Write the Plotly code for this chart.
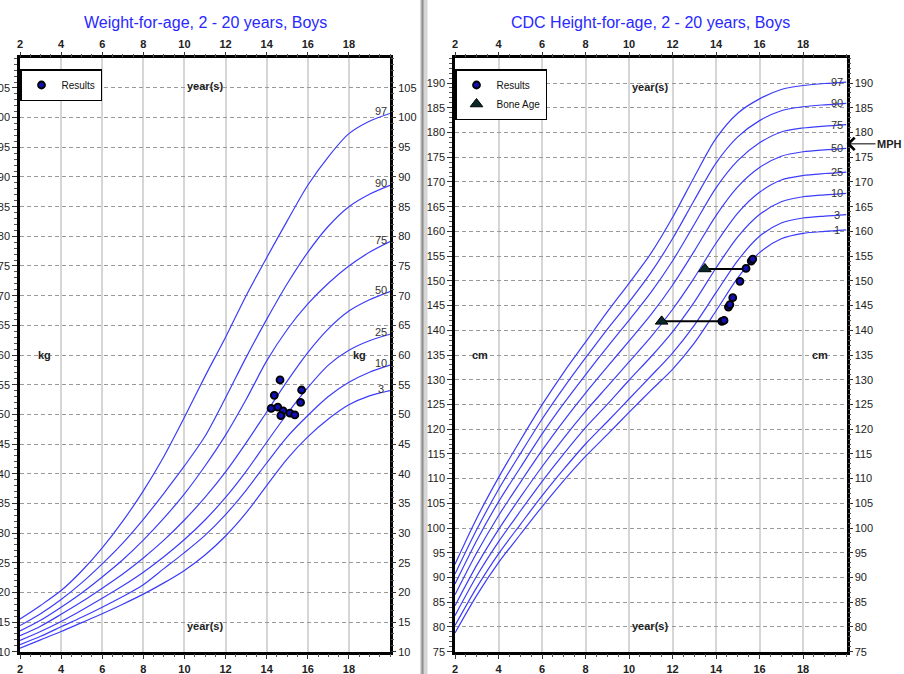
import plotly.graph_objects as go

# ---------------- data ----------------
ages = list(range(2, 21))

# CDC weight-for-age, boys (kg)
w_labels = ["3", "10", "25", "50", "75", "90", "97"]
w3 = [10.6, 12.0, 13.4, 14.9, 16.4, 18.0, 19.7, 21.6, 23.7, 26.3, 29.5, 33.4, 38.0, 42.5, 46.2, 49.2, 51.6, 53.1, 54.0]
w10 = [11.2, 12.6, 14.2, 15.8, 17.5, 19.3, 21.3, 24.0, 26.7, 29.6, 33.1, 37.2, 41.8, 46.2, 49.8, 53.0, 55.4, 57.1, 58.3]
w25 = [11.9, 13.4, 15.1, 17.0, 19.0, 21.1, 23.4, 26.0, 28.9, 32.2, 36.0, 40.4, 45.3, 50.1, 54.5, 58.3, 60.8, 62.4, 63.5]
w50 = [12.7, 14.3, 16.3, 18.4, 20.7, 23.1, 25.8, 28.8, 32.2, 36.0, 40.3, 45.2, 50.4, 55.6, 60.4, 64.4, 67.4, 69.3, 70.7]
w75 = [13.5, 15.3, 17.5, 19.9, 22.6, 25.5, 28.8, 32.5, 36.6, 41.3, 46.5, 52.5, 59.0, 64.3, 68.6, 72.1, 75.0, 77.3, 79.1]
w90 = [14.4, 16.4, 18.8, 21.6, 24.8, 28.3, 32.3, 36.7, 41.3, 46.3, 52.8, 59.6, 66.0, 72.0, 77.3, 81.7, 85.0, 87.1, 88.6]
w97 = [15.5, 17.8, 20.3, 23.6, 27.5, 32.0, 37.1, 42.9, 49.5, 56.4, 63.0, 70.0, 76.4, 82.6, 88.6, 93.4, 97.3, 99.4, 100.7]
w_curves = [w3, w10, w25, w50, w75, w90, w97]

# CDC height-for-age, boys (cm)
h_labels = ["1", "3", "10", "25", "50", "75", "90", "97"]
h1 = [78.8, 86.4, 93.0, 98.7, 104.3, 109.6, 114.5, 118.9, 123.4, 127.8, 132.1, 137.4, 143.9, 150.6, 155.7, 158.5, 159.6, 160.0, 160.3]
h3 = [80.3, 88.0, 94.8, 100.7, 106.5, 111.9, 117.0, 121.5, 126.1, 130.7, 135.4, 141.0, 147.6, 154.1, 159.0, 161.7, 162.7, 163.1, 163.4]
h10 = [82.3, 90.3, 97.2, 103.4, 109.4, 115.0, 120.3, 125.0, 129.9, 134.6, 139.7, 145.7, 152.6, 158.9, 163.4, 166.0, 167.0, 167.4, 167.7]
h25 = [84.3, 92.5, 99.7, 106.2, 112.4, 118.2, 123.6, 128.6, 133.6, 138.6, 144.2, 150.6, 157.6, 163.7, 167.9, 170.4, 171.3, 171.7, 172.0]
h50 = [86.5, 95.0, 102.5, 109.2, 115.7, 121.7, 127.3, 132.6, 137.8, 143.1, 149.1, 156.0, 163.2, 169.0, 172.9, 175.2, 176.1, 176.5, 176.8]
h75 = [88.7, 97.5, 105.3, 112.2, 119.0, 125.2, 131.0, 136.6, 142.0, 147.6, 154.0, 161.4, 168.8, 174.3, 177.9, 180.1, 180.9, 181.3, 181.6]
h90 = [90.7, 99.7, 107.8, 115.0, 122.0, 128.4, 134.4, 140.2, 145.7, 151.6, 158.5, 166.3, 173.8, 179.1, 182.4, 184.4, 185.2, 185.6, 185.9]
h97 = [92.7, 102.0, 110.2, 117.7, 124.9, 131.5, 137.6, 143.7, 149.5, 155.5, 162.8, 171.0, 178.8, 183.9, 186.8, 188.7, 189.5, 189.9, 190.2]
h_curves = [h1, h3, h10, h25, h50, h75, h90, h97]

# patient results
wr_age = [14.65, 14.37, 15.70, 15.65, 14.22, 14.54, 14.80, 14.69, 15.13, 15.37]
wr_kg = [55.8, 53.2, 54.1, 52.0, 51.0, 51.2, 50.6, 49.8, 50.2, 49.9]

hr_age = [14.27, 14.37, 14.57, 14.64, 14.77, 15.10, 15.38, 15.62, 15.69]
hr_cm = [141.8, 142.0, 144.7, 145.2, 146.6, 149.9, 152.5, 154.0, 154.4]

bone_age = [11.50, 13.49]
bone_chrono = [14.34, 15.38]
bone_cm = [141.8, 152.4]

mph_cm = 177.7

x_ticks = list(range(2, 19, 2))
w_ticks = list(range(10, 106, 5))
h_ticks = list(range(75, 191, 5))

# ---------------- style ----------------
W, H = 904, 674
FONT = "Liberation Sans, Arial, sans-serif"
CURVE = "rgb(60,60,250)"
TITLE = "rgb(40,40,255)"


def px(x):
    return x / W


def py(y):
    return 1 - y / H


XL = [px(20), px(390)]
XR = [px(455), px(846.5)]
YD = [py(651.7), py(58.3)]

fig = go.Figure()

# weight curves
for vals in w_curves:
    fig.add_trace(go.Scatter(x=ages, y=vals, mode="lines", xaxis="x", yaxis="y",
                             line=dict(color=CURVE, width=1.2, shape="spline", smoothing=0.8),
                             showlegend=False, hoverinfo="skip"))
# height curves
for vals in h_curves:
    fig.add_trace(go.Scatter(x=ages, y=vals, mode="lines", xaxis="x2", yaxis="y2",
                             line=dict(color=CURVE, width=1.2, shape="spline", smoothing=0.8),
                             showlegend=False, hoverinfo="skip"))

# weight results
fig.add_trace(go.Scatter(x=wr_age, y=wr_kg, mode="markers", name="Results", xaxis="x", yaxis="y",
                         marker=dict(symbol="circle", size=7, color="#1010b0",
                                     line=dict(color="black", width=1.8)),
                         legend="legend"))

# bone-age connectors
cx, cy = [], []
for b, c, h in zip(bone_age, bone_chrono, bone_cm):
    cx += [b, c, None]
    cy += [h, h, None]
fig.add_trace(go.Scatter(x=cx, y=cy, mode="lines", xaxis="x2", yaxis="y2",
                         line=dict(color="black", width=2), showlegend=False, hoverinfo="skip"))

fig.add_trace(go.Scatter(x=hr_age, y=hr_cm, mode="markers", name="Results", xaxis="x2", yaxis="y2",
                         marker=dict(symbol="circle", size=7, color="#1010b0",
                                     line=dict(color="black", width=1.8)),
                         legend="legend2"))
fig.add_trace(go.Scatter(x=bone_age, y=bone_cm, mode="markers", name="Bone Age", xaxis="x2", yaxis="y2",
                         marker=dict(symbol="triangle-up", size=11, color="#0a2a2a",
                                     line=dict(color="black", width=1)),
                         legend="legend2"))

# dummy traces so top / right axes are drawn
fig.add_trace(go.Scatter(x=[None], y=[None], xaxis="x3", yaxis="y", showlegend=False, hoverinfo="skip"))
fig.add_trace(go.Scatter(x=[None], y=[None], xaxis="x", yaxis="y3", showlegend=False, hoverinfo="skip"))
fig.add_trace(go.Scatter(x=[None], y=[None], xaxis="x4", yaxis="y2", showlegend=False, hoverinfo="skip"))
fig.add_trace(go.Scatter(x=[None], y=[None], xaxis="x2", yaxis="y4", showlegend=False, hoverinfo="skip"))

tickfont = dict(size=11, color="#222", family=FONT)


def xaxis(domain, side, anchor, main, overlay=None):
    d = dict(domain=domain, range=[2, 20], side=side, anchor=anchor, automargin=False,
             tickmode="array", tickvals=x_ticks, ticktext=[f"<b>{v}</b>" for v in x_ticks],
             ticks="outside", ticklen=5, tickwidth=1, tickcolor="#333",
             minor=dict(tick0=2, dtick=0.5, ticks="outside", ticklen=3, tickwidth=1,
                        tickcolor="#555", showgrid=False),
             tickfont=tickfont, zeroline=False, fixedrange=True)
    if main:
        d.update(showgrid=True, gridcolor="#d6d6d6", gridwidth=1.5,
                 showline=True, linecolor="black", linewidth=2.5, mirror=True)
    else:
        d.update(showgrid=False, showline=False, overlaying=overlay)
    return d


def yaxis(rng, ticks, side, anchor, main, overlay=None):
    d = dict(domain=YD, range=rng, side=side, anchor=anchor, automargin=False,
             tickmode="array", tickvals=ticks,
             ticks="outside", ticklen=5, tickwidth=1, tickcolor="#333",
             minor=dict(tick0=0, dtick=1, ticks="outside", ticklen=3, tickwidth=1,
                        tickcolor="#555", showgrid=False),
             tickfont=tickfont, zeroline=False, fixedrange=True)
    if main:
        d.update(showgrid=True, gridcolor="#9a9a9a", gridwidth=1.3, griddash="4px,3px",
                 showline=True, linecolor="black", linewidth=2.5, mirror=True)
    else:
        d.update(showgrid=False, showline=False, overlaying=overlay)
    return d


legend_style = dict(xanchor="left", yanchor="top", bgcolor="white",
                    bordercolor="black", borderwidth=1.5,
                    font=dict(size=10, family=FONT, color="#111"),
                    itemwidth=30, tracegroupgap=0)

fig.update_layout(
    width=W, height=H, margin=dict(l=0, r=0, t=0, b=0, autoexpand=False),
    paper_bgcolor="white", plot_bgcolor="white",
    font=dict(family=FONT, size=11, color="#222"),
    xaxis=xaxis(XL, "bottom", "y", True),
    xaxis3=xaxis(XL, "top", "y", False, "x"),
    yaxis=yaxis([10, 110], w_ticks, "left", "x", True),
    yaxis3=yaxis([10, 110], w_ticks, "right", "x", False, "y"),
    xaxis2=xaxis(XR, "bottom", "y2", True),
    xaxis4=xaxis(XR, "top", "y2", False, "x2"),
    yaxis2=yaxis([75, 195], h_ticks, "left", "x2", True),
    yaxis4=yaxis([75, 195], h_ticks, "right", "x2", False, "y2"),
    legend=dict(x=px(20), y=py(69), **legend_style),
    legend2=dict(x=px(455), y=py(69), **legend_style),
)

ann = []
# titles
ann.append(dict(text="Weight-for-age, 2 - 20 years, Boys", x=(XL[0] + XL[1]) / 2, y=py(22),
                xref="paper", yref="paper", xanchor="center", yanchor="middle", showarrow=False,
                font=dict(size=16, color=TITLE, family=FONT)))
ann.append(dict(text="CDC Height-for-age, 2 - 20 years, Boys", x=(XR[0] + XR[1]) / 2, y=py(22),
                xref="paper", yref="paper", xanchor="center", yanchor="middle", showarrow=False,
                font=dict(size=16, color=TITLE, family=FONT)))

bold = dict(size=11, color="#222", family=FONT)
# axis unit labels inside the plots
ann += [
    dict(text="<b>year(s)</b>", x=11, y=105.3, xref="x", yref="y", showarrow=False, font=bold),
    dict(text="<b>year(s)</b>", x=11, y=14.3, xref="x", yref="y", showarrow=False, font=bold),
    dict(text="<b>kg</b>", x=3.2, y=60, xref="x", yref="y", showarrow=False, font=bold),
    dict(text="<b>kg</b>", x=18.5, y=60, xref="x", yref="y", showarrow=False, font=bold),
    dict(text="<b>year(s)</b>", x=10.97, y=189.2, xref="x2", yref="y2", showarrow=False, font=bold),
    dict(text="<b>year(s)</b>", x=10.97, y=80.2, xref="x2", yref="y2", showarrow=False, font=bold),
    dict(text="<b>cm</b>", x=3.15, y=135, xref="x2", yref="y2", showarrow=False, font=bold),
    dict(text="<b>cm</b>", x=18.8, y=135, xref="x2", yref="y2", showarrow=False, font=bold),
]
# percentile labels
lab_font = dict(size=11, color="#333", family=FONT)
for lab, vals in zip(w_labels, w_curves):
    ann.append(dict(text=lab, x=19.55, y=vals[-1], xref="x", yref="y", showarrow=False,
                    yanchor="middle", yshift=2, font=lab_font))
for lab, vals in zip(h_labels, h_curves):
    ann.append(dict(text=lab, x=19.55, y=vals[-1], xref="x2", yref="y2", showarrow=False,
                    yanchor="middle", font=lab_font))
# MPH arrow
ann.append(dict(text="<b>MPH</b>", x=20, y=mph_cm, xref="x2", yref="y2", showarrow=True,
                ax=43, ay=0, arrowhead=4, arrowsize=2.4, arrowwidth=1, arrowcolor="black",
                font=dict(size=11, color="#222", family=FONT)))
fig.update_layout(annotations=ann)

# panel divider
fig.update_layout(shapes=[
    dict(type="rect", xref="paper", yref="paper", x0=px(420), x1=px(427.5), y0=0, y1=1,
         fillcolor="#d6d6d6", line=dict(width=0), layer="below"),
    dict(type="line", xref="paper", yref="paper", x0=px(422.5), x1=px(422.5), y0=0, y1=1,
         line=dict(color="#8c8c8c", width=2), layer="below"),
])

fig.write_html("out.html", config={"displayModeBar": False},
               post_script="document.body.style.margin='0px';document.body.style.overflow='hidden';")
